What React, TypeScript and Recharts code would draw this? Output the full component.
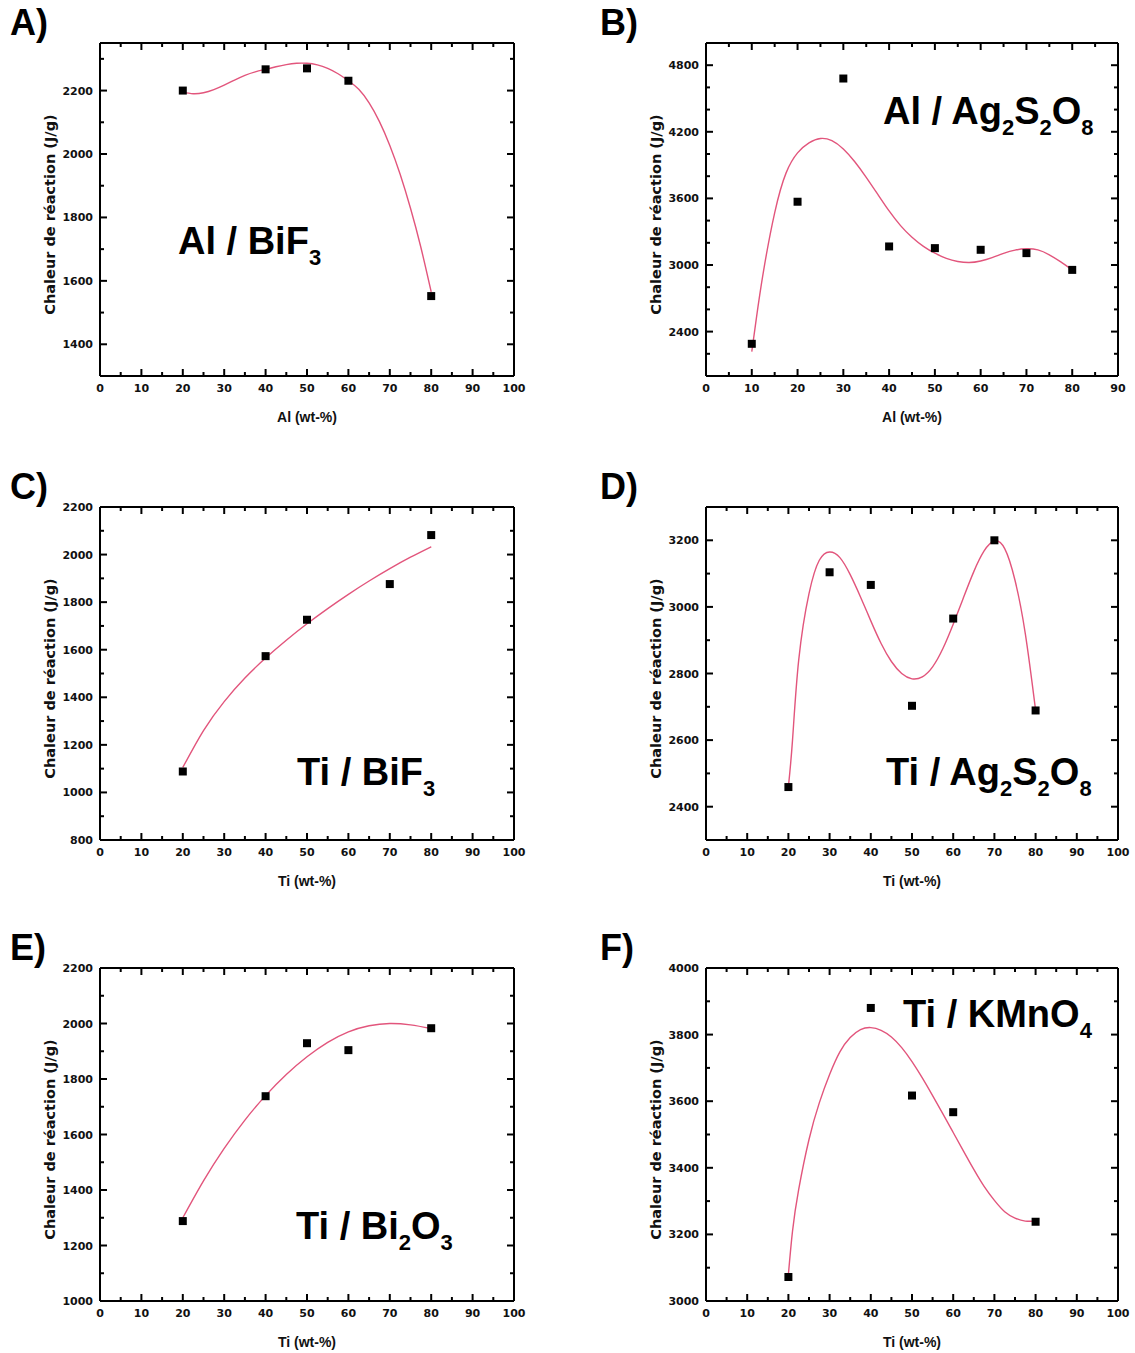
import { ComposedChart, Scatter, Line, XAxis, YAxis, Label } from 'recharts'

// x axis ticks (wt-%), every 5 with labels every 10
const pctTicks = [0, 5, 10, 15, 20, 25, 30, 35, 40, 45, 50, 55, 60, 65, 70, 75, 80, 85, 90, 95, 100]
const pctLabels = [0, 10, 20, 30, 40, 50, 60, 70, 80, 90, 100]
const pctTicks90 = [0, 5, 10, 15, 20, 25, 30, 35, 40, 45, 50, 55, 60, 65, 70, 75, 80, 85, 90]
const pctLabels90 = [0, 10, 20, 30, 40, 50, 60, 70, 80, 90]

// A) Al / BiF3
const aX = [20, 40, 50, 60, 80]
const aY = [2200, 2267, 2270, 2231, 1552]
const aFitX = [20, 22.5, 25, 27.5, 30, 32.5, 35, 37.5, 40, 42.5, 45, 47.5, 50, 52.5, 55, 57.5, 60, 62.5, 65, 67.5, 70, 72.5, 75, 77.5, 80]
const aFitY = [2195, 2190, 2193, 2203, 2217, 2233, 2248, 2259, 2267, 2275, 2282, 2286, 2286, 2281, 2270, 2253, 2231, 2204, 2161, 2102, 2027, 1936, 1829, 1706, 1565]
const aYTicks = [1300, 1400, 1500, 1600, 1700, 1800, 1900, 2000, 2100, 2200, 2300]
const aYLabels = [1400, 1600, 1800, 2000, 2200]

// B) Al / Ag2S2O8
const bX = [10, 20, 30, 40, 50, 60, 70, 80]
const bY = [2290, 3570, 4680, 3167, 3152, 3137, 3107, 2956]
const bFitX = [10, 11, 12.5, 15, 17.5, 20, 22.5, 25, 27.5, 30, 32.5, 35, 37.5, 40, 42.5, 45, 47.5, 50, 52.5, 55, 57.5, 60, 62.5, 65, 67.5, 70, 72.5, 75, 77.5, 80]
const bFitY = [2220, 2520, 2930, 3470, 3830, 4010, 4100, 4140, 4120, 4045, 3930, 3790, 3638, 3487, 3355, 3250, 3168, 3106, 3060, 3032, 3022, 3036, 3066, 3104, 3134, 3146, 3136, 3092, 3028, 2955]
const bYTicks = [2200, 2400, 2600, 2800, 3000, 3200, 3400, 3600, 3800, 4000, 4200, 4400, 4600, 4800]
const bYLabels = [2400, 3000, 3600, 4200, 4800]

// C) Ti / BiF3
const cX = [20, 40, 50, 70, 80]
const cY = [1088, 1573, 1726, 1876, 2082]
const cFitX = [20, 25, 30, 35, 40, 45, 50, 55, 60, 65, 70, 75, 80]
const cFitY = [1105, 1260, 1382, 1481, 1565, 1640, 1709, 1773, 1833, 1889, 1941, 1989, 2033]
const cYTicks = [800, 900, 1000, 1100, 1200, 1300, 1400, 1500, 1600, 1700, 1800, 1900, 2000, 2100, 2200]
const cYLabels = [800, 1000, 1200, 1400, 1600, 1800, 2000, 2200]

// D) Ti / Ag2S2O8
const dX = [20, 30, 40, 50, 60, 70, 80]
const dY = [2459, 3104, 3066, 2703, 2965, 3200, 2689]
const dFitX = [20, 21, 22.5, 25, 27.5, 30, 32.5, 35, 37.5, 40, 42.5, 45, 47.5, 50, 52.5, 55, 57.5, 60, 62.5, 65, 67.5, 70, 72.5, 75, 77.5, 80]
const dFitY = [2460, 2600, 2840, 3040, 3140, 3165, 3148, 3097, 3030, 2958, 2890, 2836, 2800, 2784, 2790, 2820, 2875, 2948, 3028, 3106, 3168, 3198, 3175, 3080, 2920, 2690]
const dYTicks = [2300, 2400, 2500, 2600, 2700, 2800, 2900, 3000, 3100, 3200, 3300]
const dYLabels = [2400, 2600, 2800, 3000, 3200]

// E) Ti / Bi2O3
const eX = [20, 40, 50, 60, 80]
const eY = [1288, 1738, 1929, 1904, 1983]
const eFitX = [20, 25, 30, 35, 40, 45, 50, 55, 60, 65, 70, 75, 80]
const eFitY = [1300, 1433, 1550, 1652, 1740, 1816, 1880, 1932, 1970, 1992, 2000, 1995, 1982]
const eYTicks = [1000, 1100, 1200, 1300, 1400, 1500, 1600, 1700, 1800, 1900, 2000, 2100, 2200]
const eYLabels = [1000, 1200, 1400, 1600, 1800, 2000, 2200]

// F) Ti / KMnO4
const fX = [20, 40, 50, 60, 80]
const fY = [3072, 3880, 3617, 3567, 3238]
const fFitX = [20, 21, 22.5, 25, 27.5, 30, 32.5, 35, 37.5, 40, 42.5, 45, 47.5, 50, 52.5, 55, 57.5, 60, 62.5, 65, 67.5, 70, 72.5, 75, 77.5, 80]
const fFitY = [3080, 3210, 3335, 3485, 3595, 3680, 3748, 3791, 3815, 3821, 3813, 3793, 3761, 3719, 3670, 3617, 3562, 3506, 3450, 3395, 3344, 3302, 3268, 3249, 3240, 3240]
const fYTicks = [3000, 3100, 3200, 3300, 3400, 3500, 3600, 3700, 3800, 3900, 4000]
const fYLabels = [3000, 3200, 3400, 3600, 3800, 4000]

const FIT_COLOR = '#e2557c'
const tickFont = { fontFamily: '"DejaVu Sans", sans-serif', fontWeight: 700, fontSize: 11, fill: '#111' }
const axisLine = { stroke: '#000', strokeWidth: 2 }

const zip = (xs: number[], ys: number[]) => xs.map((x, i) => ({ x, y: ys[i] }))

const bottomTick = (labels: number[]) => (props: any) => {
  const { x, y, payload } = props
  const major = labels.includes(payload.value)
  return (
    <g>
      <line x1={x} x2={x} y1={y} y2={y - (major ? 7 : 4)} stroke="#000" strokeWidth={2} />
      {major && <text x={x} y={y + 16} textAnchor="middle" {...tickFont}>{payload.value}</text>}
    </g>
  )
}

const topTick = (labels: number[]) => (props: any) => {
  const { x, y, payload } = props
  const major = labels.includes(payload.value)
  return <line x1={x} x2={x} y1={y} y2={y + (major ? 7 : 4)} stroke="#000" strokeWidth={2} />
}

const leftTick = (labels: number[]) => (props: any) => {
  const { x, y, payload } = props
  const major = labels.includes(payload.value)
  return (
    <g>
      <line x1={x} x2={x + (major ? 7 : 4)} y1={y} y2={y} stroke="#000" strokeWidth={2} />
      {major && <text x={x - 7} y={y + 4} textAnchor="end" {...tickFont}>{payload.value}</text>}
    </g>
  )
}

const rightTick = (labels: number[]) => (props: any) => {
  const { x, y, payload } = props
  const major = labels.includes(payload.value)
  return <line x1={x} x2={x - (major ? 7 : 4)} y1={y} y2={y} stroke="#000" strokeWidth={2} />
}

interface PanelProps {
  left: number
  top: number
  width: number
  ml: number
  mr: number
  letter: string
  xTitle: string
  xDomain: [number, number]
  xTicks: number[]
  xLabels: number[]
  yDomain: [number, number]
  yTicks: number[]
  yLabels: number[]
  px: number[]
  py: number[]
  fx: number[]
  fy: number[]
  note: React.ReactNode
  noteLeft: number
  noteTop: number
}

function Panel(p: PanelProps) {
  const points = zip(p.px, p.py)
  const fit = zip(p.fx, p.fy)
  return (
    <div style={{ position: 'absolute', left: p.left, top: p.top, width: p.width, height: 450 }}>
      <div style={{ position: 'absolute', left: p.ml > 60 ? 33 : 10, top: 5, fontFamily: '"Liberation Sans", Arial, sans-serif', fontWeight: 700, fontSize: 36, lineHeight: 1 }}>
        {p.letter}
      </div>
      <ComposedChart width={p.width} height={450} margin={{ top: 42, right: p.mr - 1, bottom: 24, left: p.ml }}>
        <XAxis
          xAxisId="b"
          type="number"
          dataKey="x"
          domain={p.xDomain}
          ticks={p.xTicks}
          interval={0}
          allowDataOverflow
          tickSize={0}
          tickMargin={0}
          tickLine={false}
          axisLine={axisLine}
          tick={bottomTick(p.xLabels)}
          height={50}
        >
          <Label
            content={(lp: any) => {
              const vb = lp.viewBox
              return (
                <text x={vb.x + vb.width / 2} y={vb.y + 46} textAnchor="middle" fontFamily='"Liberation Sans", Arial, sans-serif' fontWeight={700} fontSize={14} fill="#111">
                  {p.xTitle}
                </text>
              )
            }}
          />
        </XAxis>
        <XAxis
          xAxisId="t"
          orientation="top"
          type="number"
          dataKey="x"
          domain={p.xDomain}
          ticks={p.xTicks}
          interval={0}
          allowDataOverflow
          tickSize={0}
          tickMargin={0}
          tickLine={false}
          axisLine={axisLine}
          tick={topTick(p.xLabels)}
          height={1}
        />
        <YAxis
          yAxisId="l"
          type="number"
          dataKey="y"
          domain={p.yDomain}
          ticks={p.yTicks}
          interval={0}
          allowDataOverflow
          tickSize={0}
          tickMargin={0}
          tickLine={false}
          axisLine={axisLine}
          tick={leftTick(p.yLabels)}
          width={60}
        >
          <Label
            content={(lp: any) => {
              const vb = lp.viewBox
              const cx = vb.x + 15
              const cy = vb.y + vb.height / 2 + 5
              return (
                <text x={cx} y={cy} transform={`rotate(-90, ${cx}, ${cy})`} textAnchor="middle" fontFamily='"DejaVu Sans", sans-serif' fontWeight={700} fontSize={14.5} fill="#111">
                  Chaleur de réaction (J/g)
                </text>
              )
            }}
          />
        </YAxis>
        <YAxis
          yAxisId="r"
          orientation="right"
          type="number"
          dataKey="y"
          domain={p.yDomain}
          ticks={p.yTicks}
          interval={0}
          allowDataOverflow
          tickSize={0}
          tickMargin={0}
          tickLine={false}
          axisLine={axisLine}
          tick={rightTick(p.yLabels)}
          width={1}
        />
        {/* invisible copy of the fit so the mirrored top/right axes get drawn */}
        <Line
          xAxisId="t"
          yAxisId="r"
          data={fit}
          dataKey="y"
          stroke="none"
          dot={false}
          activeDot={false}
          legendType="none"
          isAnimationActive={false}
        />
        <Line
          xAxisId="b"
          yAxisId="l"
          data={fit}
          dataKey="y"
          type="natural"
          stroke={FIT_COLOR}
          strokeWidth={1.4}
          dot={false}
          activeDot={false}
          isAnimationActive={false}
        />
        <Scatter xAxisId="b" yAxisId="l" data={points} dataKey="y" shape="square" fill="#000" isAnimationActive={false} />
      </ComposedChart>
      <div
        style={{
          position: 'absolute',
          left: p.noteLeft,
          top: p.noteTop,
          fontFamily: '"Liberation Sans", Arial, sans-serif',
          fontWeight: 700,
          fontSize: 38,
          lineHeight: 1,
          whiteSpace: 'nowrap',
          color: '#000',
        }}
      >
        {p.note}
      </div>
    </div>
  )
}

const Sub = ({ children }: { children: React.ReactNode }) => (
  <span style={{ fontSize: 22, position: 'relative', top: 11 }}>{children}</span>
)

export default function App() {
  const L = { left: 0, width: 567, ml: 40, mr: 53 }
  const R = { left: 567, width: 568, ml: 79, mr: 17 }
  return (
    <div style={{ position: 'absolute', left: 0, top: 0, width: 1135, height: 1353, background: '#fff' }}>
      <Panel
        {...L}
        top={0}
        letter="A)"
        xTitle="Al (wt-%)"
        xDomain={[0, 100]}
        xTicks={pctTicks}
        xLabels={pctLabels}
        yDomain={[1300, 2350]}
        yTicks={aYTicks}
        yLabels={aYLabels}
        px={aX}
        py={aY}
        fx={aFitX}
        fy={aFitY}
        noteLeft={178}
        noteTop={222}
        note={<>Al / BiF<Sub>3</Sub></>}
      />
      <Panel
        {...R}
        top={0}
        letter="B)"
        xTitle="Al (wt-%)"
        xDomain={[0, 90]}
        xTicks={pctTicks90}
        xLabels={pctLabels90}
        yDomain={[2000, 5000]}
        yTicks={bYTicks}
        yLabels={bYLabels}
        px={bX}
        py={bY}
        fx={bFitX}
        fy={bFitY}
        noteLeft={316}
        noteTop={92}
        note={<>Al / Ag<Sub>2</Sub>S<Sub>2</Sub>O<Sub>8</Sub></>}
      />
      <Panel
        {...L}
        top={464}
        letter="C)"
        xTitle="Ti (wt-%)"
        xDomain={[0, 100]}
        xTicks={pctTicks}
        xLabels={pctLabels}
        yDomain={[800, 2200]}
        yTicks={cYTicks}
        yLabels={cYLabels}
        px={cX}
        py={cY}
        fx={cFitX}
        fy={cFitY}
        noteLeft={297}
        noteTop={289}
        note={<>Ti / BiF<Sub>3</Sub></>}
      />
      <Panel
        {...R}
        top={464}
        letter="D)"
        xTitle="Ti (wt-%)"
        xDomain={[0, 100]}
        xTicks={pctTicks}
        xLabels={pctLabels}
        yDomain={[2300, 3300]}
        yTicks={dYTicks}
        yLabels={dYLabels}
        px={dX}
        py={dY}
        fx={dFitX}
        fy={dFitY}
        noteLeft={319}
        noteTop={289}
        note={<>Ti / Ag<Sub>2</Sub>S<Sub>2</Sub>O<Sub>8</Sub></>}
      />
      <Panel
        {...L}
        top={925}
        letter="E)"
        xTitle="Ti (wt-%)"
        xDomain={[0, 100]}
        xTicks={pctTicks}
        xLabels={pctLabels}
        yDomain={[1000, 2200]}
        yTicks={eYTicks}
        yLabels={eYLabels}
        px={eX}
        py={eY}
        fx={eFitX}
        fy={eFitY}
        noteLeft={296}
        noteTop={282}
        note={<>Ti / Bi<Sub>2</Sub>O<Sub>3</Sub></>}
      />
      <Panel
        {...R}
        top={925}
        letter="F)"
        xTitle="Ti (wt-%)"
        xDomain={[0, 100]}
        xTicks={pctTicks}
        xLabels={pctLabels}
        yDomain={[3000, 4000]}
        yTicks={fYTicks}
        yLabels={fYLabels}
        px={fX}
        py={fY}
        fx={fFitX}
        fy={fFitY}
        noteLeft={336}
        noteTop={70}
        note={<>Ti / KMnO<Sub>4</Sub></>}
      />
    </div>
  )
}
